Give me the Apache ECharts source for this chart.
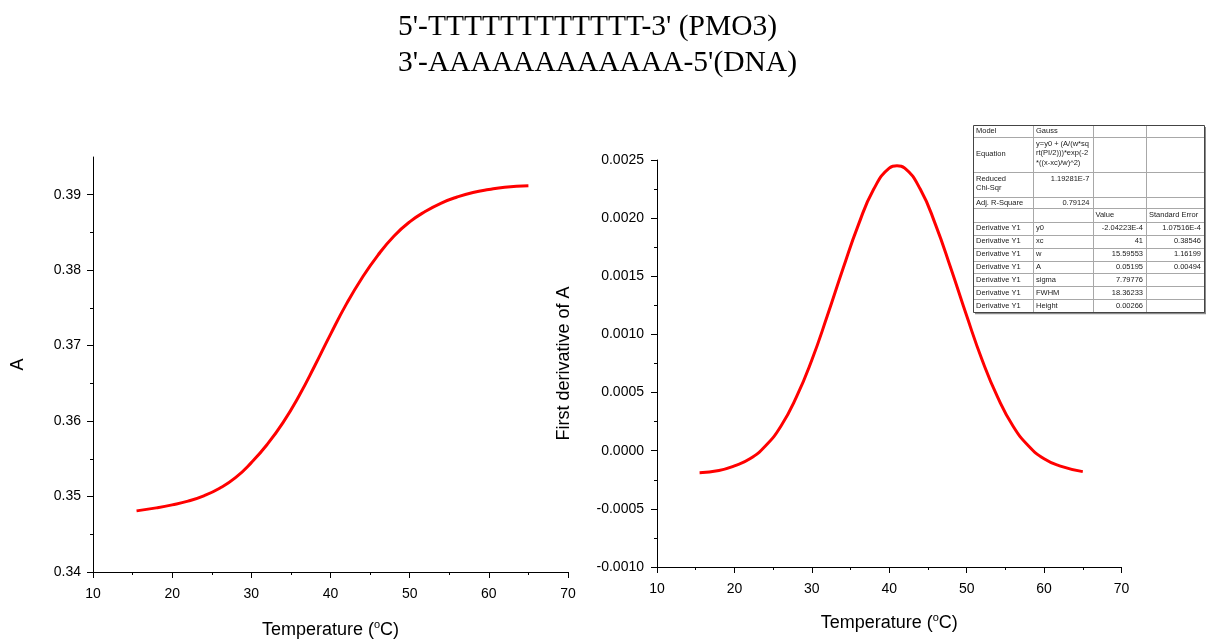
<!DOCTYPE html>
<html>
<head>
<meta charset="utf-8">
<script src="https://cdn.jsdelivr.net/npm/echarts@6/dist/echarts.min.js"></script>
<style>html,body{margin:0;padding:0;background:#fff;}#c{width:1206px;height:640px;}</style>
</head>
<body>
<div id="c"></div>
<script>
// ---------- data ----------
const titleLines = ["5'-TTTTTTTTTTTT-3' (PMO3)", "3'-AAAAAAAAAAAA-5'(DNA)"];

// Left panel: absorbance vs temperature
const tempA = [15.5, 18, 20, 22, 24, 26, 28, 30, 32, 34, 36, 38, 40, 42, 44, 46, 48, 50, 52, 54, 56, 58, 60, 62, 65];
const absA  = [0.3481, 0.3485, 0.3489, 0.3494, 0.3501, 0.3511, 0.3525, 0.3545, 0.3569, 0.3598, 0.3633, 0.3673, 0.3715,
               0.3755, 0.3790, 0.3820, 0.3845, 0.3864, 0.3878, 0.3889, 0.3897, 0.3903, 0.3907, 0.3910, 0.3912];
const yTicksA = [0.34, 0.35, 0.36, 0.37, 0.38, 0.39];
const yMinorTicksA = [0.345, 0.355, 0.365, 0.375, 0.385];

// Right panel: first derivative
const tempD  = [15.5, 18, 20, 22, 24, 26, 28, 30, 32, 34, 36, 38, 40, 41, 42, 44, 46, 48, 50, 52, 54, 56, 58, 60, 62, 65];
const derivD = [-0.00019, -0.00017, -0.00013, -0.00007, 0.00004, 0.00021, 0.00046, 0.00078, 0.00116, 0.00156, 0.00194,
                0.00225, 0.00243, 0.00245, 0.00243, 0.00225, 0.00194, 0.00156, 0.00116, 0.00078, 0.00046, 0.00021,
                0.00004, -0.00007, -0.00013, -0.00018];

const xTicks = [10, 20, 30, 40, 50, 60, 70];

// Fit-results table
const tableRows = [
  ["Model", "Gauss", "", ""],
  ["Equation", "y=y0 + (A/(w*sq\nrt(PI/2)))*exp(-2\n*((x-xc)/w)^2)", "", ""],
  ["Reduced\nChi-Sqr", "1.19281E-7", "", ""],
  ["Adj. R-Square", "0.79124", "", ""],
  ["", "", "Value", "Standard Error"],
  ["Derivative Y1", "y0", "-2.04223E-4", "1.07516E-4"],
  ["Derivative Y1", "xc", "41", "0.38546"],
  ["Derivative Y1", "w", "15.59553", "1.16199"],
  ["Derivative Y1", "A", "0.05195", "0.00494"],
  ["Derivative Y1", "sigma", "7.79776", ""],
  ["Derivative Y1", "FWHM", "18.36233", ""],
  ["Derivative Y1", "Height", "0.00266", ""]
];

// ---------- layout / styles ----------
const SANS = "'Liberation Sans', Arial, Helvetica, sans-serif";
const SERIF = "'Liberation Serif', 'Times New Roman', serif";

const colX = [973, 1033, 1092.5, 1146, 1204];
const rowY = [125, 137, 171.7, 196.7, 208.3, 221.7, 234.6, 247.6, 260.5, 273.4, 286.4, 299.3, 312.3];

function buildTable() {
  const els = [];
  const L = colX[0], R = colX[colX.length - 1], T = rowY[0], B = rowY[rowY.length - 1];
  els.push({type: 'rect', shape: {x: L + 2, y: T + 2, width: R - L, height: B - T}, style: {fill: '#8a8a8a'}, z: 10});
  els.push({type: 'rect', shape: {x: L, y: T, width: R - L, height: B - T}, style: {fill: '#fff'}, z: 11});
  for (let i = 1; i < rowY.length - 1; i++) {
    const y = Math.round(rowY[i]) + 0.5;
    els.push({type: 'line', shape: {x1: L, y1: y, x2: R, y2: y}, style: {stroke: '#a8a8a8', lineWidth: 1}, z: 12});
  }
  for (let j = 1; j < colX.length - 1; j++) {
    const x = Math.round(colX[j]) + 0.5;
    els.push({type: 'line', shape: {x1: x, y1: T, x2: x, y2: B}, style: {stroke: '#a8a8a8', lineWidth: 1}, z: 12});
  }
  els.push({type: 'rect', shape: {x: Math.round(L) + 0.5, y: Math.round(T) + 0.5, width: Math.round(R - L), height: Math.round(B - T)},
            style: {fill: null, stroke: '#444', lineWidth: 1}, z: 13});
  const isNum = s => /^-?[0-9.]+(E-?[0-9]+)?$/.test(s);
  tableRows.forEach((row, ri) => {
    const top = rowY[ri], bot = rowY[ri + 1];
    const multi = (bot - top) > 16;
    row.forEach((txt, ci) => {
      if (!txt) return;
      const num = isNum(txt);
      const x = num ? colX[ci + 1] - 3 : colX[ci] + 3;
      let y, va;
      if (!multi || (ci === 0 && txt.indexOf('\n') < 0)) { y = (top + bot) / 2; va = 'middle'; }
      else { y = top + 2; va = 'top'; }
      els.push({type: 'text', x: x, y: y, z: 14,
        style: {text: txt, fontSize: 7.5, fontFamily: SANS, fill: '#1a1a1a', lineHeight: 9.5,
                align: num ? 'right' : 'left', verticalAlign: va}});
    });
  });
  return els;
}

const axisCommon = {
  axisLine: {show: true, onZero: false, lineStyle: {color: '#000', width: 1}},
  axisTick: {show: true, inside: false, length: 6, lineStyle: {color: '#000', width: 1}},
  minorTick: {show: true, splitNumber: 2, length: 3, lineStyle: {color: '#000', width: 1}},
  splitLine: {show: false},
  minorSplitLine: {show: false},
  axisLabel: {color: '#000', fontSize: 14, fontFamily: SANS}
};
const xName = '{n|Temperature (}{s|o}{n|C)}';
const xNameStyle = {
  rich: {
    n: {fontSize: 18, fontFamily: SANS, color: '#000', lineHeight: 22},
    s: {fontSize: 11, fontFamily: SANS, color: '#000', verticalAlign: 'top', lineHeight: 14}
  }
};

const option = {
  backgroundColor: '#fff',
  animation: false,
  title: {
    text: titleLines.join('\n'),
    left: 393, top: 4,
    textStyle: {fontFamily: SERIF, fontSize: 29.5, fontWeight: 'normal', color: '#000', lineHeight: 36}
  },
  grid: [
    {left: 93, right: 638, top: 157, bottom: 68, containLabel: false, outerBoundsMode: 'none'},
    {left: 657, right: 84.5, top: 160, bottom: 73, containLabel: false, outerBoundsMode: 'none'}
  ],
  xAxis: [
    Object.assign({}, axisCommon, {
      type: 'value', gridIndex: 0, min: 10, max: 70, interval: 10, position: 'bottom',
      name: xName, nameLocation: 'middle', nameGap: 47, nameTextStyle: xNameStyle,
      axisLabel: Object.assign({}, axisCommon.axisLabel, {margin: 15})
    }),
    Object.assign({}, axisCommon, {
      type: 'value', gridIndex: 1, min: 10, max: 70, interval: 10, position: 'bottom',
      name: xName, nameLocation: 'middle', nameGap: 45, nameTextStyle: xNameStyle,
      axisLabel: Object.assign({}, axisCommon.axisLabel, {margin: 15})
    })
  ],
  yAxis: [
    Object.assign({}, axisCommon, {
      type: 'value', gridIndex: 0, min: 0.34, max: 0.395, interval: 0.01, position: 'left',
      name: 'A', nameLocation: 'middle', nameGap: 66,
      nameTextStyle: {fontSize: 18, fontFamily: SANS, color: '#000'},
      minorTick: {show: false},
      axisTick: Object.assign({}, axisCommon.axisTick, {customValues: yTicksA}),
      axisLabel: Object.assign({}, axisCommon.axisLabel, {customValues: yTicksA, margin: 12,
        formatter: v => v.toFixed(2)})
    }),
    {
      type: 'value', gridIndex: 0, min: 0.34, max: 0.395, interval: 0.005, position: 'left',
      axisLine: {show: false}, axisLabel: {show: false}, splitLine: {show: false},
      axisTick: {show: true, inside: false, length: 3, customValues: yMinorTicksA, lineStyle: {color: '#000', width: 1}}
    },
    Object.assign({}, axisCommon, {
      type: 'value', gridIndex: 1, min: -0.001, max: 0.0025, interval: 0.0005, position: 'left',
      name: 'First derivative of A', nameLocation: 'middle', nameGap: 84,
      nameTextStyle: {fontSize: 18, fontFamily: SANS, color: '#000'},
      axisLabel: Object.assign({}, axisCommon.axisLabel, {margin: 13,
        formatter: v => (Math.abs(v) < 1e-12 ? 0 : v).toFixed(4)})
    })
  ],
  series: [
    {
      type: 'line', xAxisIndex: 0, yAxisIndex: 0, smooth: true, showSymbol: false,
      lineStyle: {color: '#ff0000', width: 3}, itemStyle: {color: '#ff0000'},
      data: tempA.map((t, i) => [t, absA[i]])
    },
    {
      type: 'line', xAxisIndex: 1, yAxisIndex: 2, smooth: true, showSymbol: false,
      lineStyle: {color: '#ff0000', width: 3}, itemStyle: {color: '#ff0000'},
      data: tempD.map((t, i) => [t, derivD[i]])
    }
  ],
  graphic: {elements: buildTable()}
};

const chart = echarts.init(document.getElementById('c'), null, {renderer: 'canvas'});
chart.setOption(option);
</script>
</body>
</html>
